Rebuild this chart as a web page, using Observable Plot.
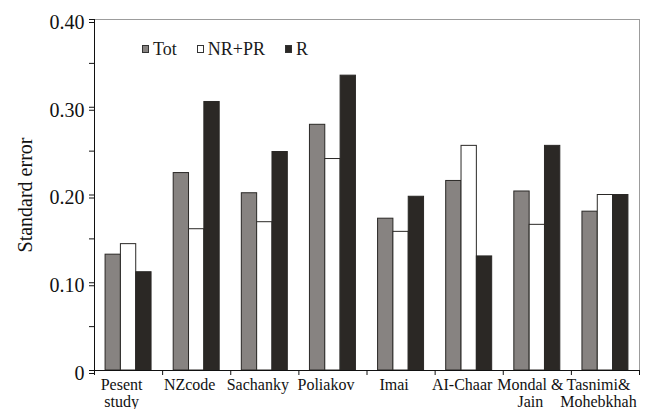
<!DOCTYPE html>
<html>
<head>
<meta charset="utf-8">
<script src="https://cdn.jsdelivr.net/npm/d3@7"></script>
<script src="https://cdn.jsdelivr.net/npm/@observablehq/plot@0.6"></script>
<style>
  body { margin: 0; background: #fff; }
  #chart { position: relative; width: 651px; height: 409px; font-family: "Liberation Serif", "Times New Roman", serif; color: #111; }
  #chart svg { display: block; }
  .legend { position: absolute; left: 142px; top: 39px; display: flex; align-items: center; font-family: "Liberation Serif", "Times New Roman", serif; font-size: 18px; line-height: 20px; color: #1a1a1a; }
  .legend .item { display: flex; align-items: center; margin-right: 20px; }
  .legend .swatch { width: 5px; height: 6px; border: 1px solid #333; margin-right: 4px; }
</style>
</head>
<body>
<div id="chart"></div>
<script>
// Standard error of each model, grouped by source
const categories = ["Pesent\nstudy", "NZcode", "Sachanky", "Poliakov", "Imai", "AI-Chaar", "Mondal &\nJain", "Tasnimi&\nMohebkhah"];
const seriesNames = ["Tot", "NR+PR", "R"];
const totValues  = [0.132, 0.225, 0.202, 0.280, 0.173, 0.216, 0.204, 0.181];
const nrprValues = [0.144, 0.161, 0.169, 0.241, 0.158, 0.256, 0.166, 0.200];
const rValues    = [0.112, 0.306, 0.249, 0.336, 0.198, 0.130, 0.256, 0.200];
const yMinorTicks = [0, 0.05, 0.10, 0.15, 0.20, 0.25, 0.30, 0.35, 0.40];
const yLabelTicks = [0, 0.10, 0.20, 0.30, 0.40];
const seriesColors = ["#878381", "#ffffff", "#2b2825"];

const seriesValues = [totValues, nrprValues, rValues];
const rows = seriesNames.flatMap((series, s) =>
  categories.map((category, i) => ({category, index: i, series, slot: s, value: seriesValues[s][i]}))
);

// Each category occupies one unit on x; the three bars fill the middle part of it
const barWidth = 0.225;
const groupStart = (1 - barWidth * seriesNames.length) / 2;
const centers = categories.map((_, i) => i + 0.5);

const chart = Plot.plot({
  width: 651,
  height: 409,
  marginLeft: 94,
  marginRight: 12,
  marginTop: 19,
  marginBottom: 39,
  style: {fontFamily: "'Liberation Serif', 'Times New Roman', serif", background: "white", color: "#111"},
  x: {domain: [0, categories.length], axis: null},
  y: {domain: [0, 0.4], axis: null},
  color: {domain: seriesNames, range: seriesColors},
  marks: [
    Plot.frame({stroke: "#9c9c9c"}),
    Plot.rectY(rows, {
      x1: d => d.index + groupStart + d.slot * barWidth,
      x2: d => d.index + groupStart + (d.slot + 1) * barWidth,
      y: "value",
      fill: "series",
      stroke: "#2a2826",
      strokeWidth: 1
    }),
    Plot.ruleX([0], {stroke: "#111"}),
    Plot.ruleY([0], {stroke: "#111"}),
    Plot.axisY({ticks: yMinorTicks, tickSize: 5, tickFormat: () => "", label: null}),
    Plot.axisY({
      ticks: yLabelTicks, tickSize: 5, tickPadding: 5, dy: 3,
      fontSize: 20, label: null,
      tickFormat: d => d === 0 ? "0" : d.toFixed(2)
    }),
    Plot.axisX({ticks: d3.range(categories.length + 1), tickSize: 5, tickFormat: () => "", label: null}),
    Plot.axisX({
      ticks: centers, tickSize: 0, tickPadding: 7, dx: -7,
      fontSize: 16, lineHeight: 1.08, label: null,
      tickFormat: c => categories[Math.floor(c)]
    }),
    Plot.text(["Standard error"], {
      frameAnchor: "left", rotate: -90, dx: -69, fontSize: 20, textAnchor: "middle"
    })
  ]
});

const container = document.getElementById("chart");
container.appendChild(chart);

// Legend drawn over the top of the plot area
const legend = document.createElement("div");
legend.className = "legend";
seriesNames.forEach((name, i) => {
  const item = document.createElement("div");
  item.className = "item";
  const swatch = document.createElement("span");
  swatch.className = "swatch";
  swatch.style.background = seriesColors[i];
  const label = document.createElement("span");
  label.textContent = name;
  item.appendChild(swatch);
  item.appendChild(label);
  legend.appendChild(item);
});
container.appendChild(legend);
</script>
</body>
</html>
